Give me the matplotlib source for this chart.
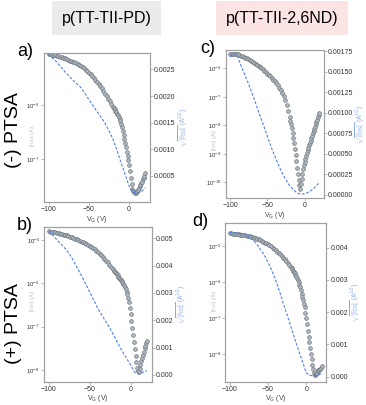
import matplotlib
matplotlib.use("Agg")
import matplotlib.pyplot as plt
import matplotlib.ticker as mticker
import numpy as np

plt.rcParams["font.family"] = ["Liberation Sans", "DejaVu Sans"]
plt.rcParams["mathtext.fontset"] = "custom"
plt.rcParams["mathtext.rm"] = "Liberation Sans"
plt.rcParams["mathtext.it"] = "Liberation Sans"

# gate voltage sweep: 2 V steps to -22 V, then 1 V steps
vg = np.r_[np.arange(-100, -21, 2), np.arange(-20, 21, 1)]
vg_line = np.arange(-100, 21, 5)

# log10 |I_DS| (A)
a_log_ids = [-5.06, -5.065, -5.07, -5.08, -5.085, -5.09, -5.10, -5.11, -5.12, -5.13,
             -5.14, -5.155, -5.17, -5.18, -5.19, -5.20, -5.21, -5.225, -5.24, -5.255,
             -5.27, -5.29, -5.32, -5.345, -5.37, -5.40, -5.43, -5.465, -5.50, -5.535,
             -5.57, -5.61, -5.65, -5.69, -5.74, -5.79, -5.84, -5.885, -5.93, -5.98,
             -6.03, -6.055, -6.08, -6.105, -6.13, -6.16, -6.19, -6.22, -6.26, -6.30,
             -6.35, -6.41, -6.48, -6.55, -6.62, -6.70, -6.78, -6.86, -6.94, -7.02,
             -7.10, -7.22, -7.35, -7.46, -7.54, -7.59, -7.61, -7.62, -7.62, -7.61,
             -7.59, -7.56, -7.53, -7.50, -7.47, -7.44, -7.41, -7.37, -7.34, -7.30, -7.26]
c_log_ids = [-5.50, -5.50, -5.49, -5.48, -5.48, -5.50, -5.52, -5.55, -5.57, -5.60,
             -5.62, -5.65, -5.68, -5.71, -5.74, -5.77, -5.81, -5.84, -5.87, -5.91,
             -5.95, -5.99, -6.03, -6.08, -6.13, -6.18, -6.23, -6.28, -6.33, -6.39,
             -6.45, -6.52, -6.59, -6.67, -6.76, -6.86, -6.97, -7.10, -7.28, -7.50,
             -7.72, -7.84, -7.96, -8.10, -8.26, -8.44, -8.63, -8.83, -9.03, -9.25,
             -9.50, -9.72, -9.92, -10.10, -10.22, -10.05, -9.88, -9.70, -9.52, -9.40,
             -9.30, -9.19, -9.08, -8.97, -8.87, -8.78, -8.70, -8.61, -8.53, -8.44,
             -8.36, -8.28, -8.20, -8.12, -8.04, -7.96, -7.88, -7.80, -7.72, -7.65, -7.58]
b_log_ids = [-4.80, -4.81, -4.81, -4.82, -4.83, -4.84, -4.85, -4.86, -4.87, -4.88,
             -4.89, -4.90, -4.915, -4.93, -4.945, -4.96, -4.975, -4.99, -5.005, -5.02,
             -5.04, -5.06, -5.08, -5.10, -5.12, -5.145, -5.17, -5.195, -5.22, -5.25,
             -5.285, -5.32, -5.36, -5.40, -5.44, -5.48, -5.52, -5.57, -5.62, -5.67,
             -5.72, -5.745, -5.77, -5.795, -5.82, -5.845, -5.87, -5.895, -5.92, -5.95,
             -5.98, -6.01, -6.05, -6.09, -6.14, -6.19, -6.25, -6.33, -6.43, -6.56,
             -6.70, -6.86, -7.02, -7.19, -7.35, -7.52, -7.68, -7.82, -7.94, -8.02,
             -8.05, -7.98, -7.88, -7.79, -7.71, -7.64, -7.57, -7.50, -7.44, -7.38, -7.32]
d_log_ids = [-4.64, -4.645, -4.65, -4.655, -4.66, -4.665, -4.67, -4.68, -4.685, -4.69,
             -4.70, -4.71, -4.72, -4.73, -4.74, -4.75, -4.765, -4.78, -4.795, -4.81,
             -4.83, -4.85, -4.875, -4.90, -4.925, -4.95, -4.98, -5.01, -5.04, -5.07,
             -5.11, -5.15, -5.19, -5.23, -5.27, -5.32, -5.37, -5.42, -5.47, -5.53,
             -5.59, -5.62, -5.65, -5.68, -5.72, -5.76, -5.80, -5.84, -5.89, -5.94,
             -6.00, -6.07, -6.15, -6.23, -6.32, -6.41, -6.50, -6.60, -6.70, -6.85,
             -7.00, -7.17, -7.35, -7.52, -7.68, -7.85, -8.00, -8.15, -8.30, -8.43,
             -8.53, -8.59, -8.58, -8.55, -8.52, -8.49, -8.46, -8.44, -8.41, -8.38, -8.35]

# sqrt(|I_DS|) (A^1/2), every 5 V
a_sqrt = [0.00279, 0.00271, 0.00264, 0.00255, 0.00246, 0.00238, 0.00230, 0.00223, 0.00216,
          0.00205, 0.00193, 0.00182, 0.00171, 0.00160, 0.00149, 0.00134, 0.00118, 0.00097,
          0.00074, 0.00052, 0.00030, 0.00019, 0.00016, 0.00019, 0.00027]
c_sqrt = [0.00168, 0.00172, 0.00168, 0.00156, 0.00145, 0.00134, 0.00122, 0.00109, 0.00096,
          0.00084, 0.00071, 0.00058, 0.00047, 0.00036, 0.00026, 0.00018, 0.00011, 0.00006,
          0.00002, 0.00001, 0.00001, 0.00003, 0.00006, 0.00010, 0.00015]
b_sqrt = [0.00526, 0.00510, 0.00494, 0.00478, 0.00462, 0.00443, 0.00418, 0.00390, 0.00362,
          0.00333, 0.00302, 0.00273, 0.00242, 0.00218, 0.00193, 0.00170, 0.00141, 0.00113,
          0.00086, 0.00061, 0.00036, 0.00010, 0.00003, 0.00010, 0.00016]
d_sqrt = [0.00447, 0.00446, 0.00445, 0.00443, 0.00440, 0.00434, 0.00425, 0.00412, 0.00395,
          0.00378, 0.00355, 0.00330, 0.00300, 0.00266, 0.00228, 0.00192, 0.00155, 0.00118,
          0.00082, 0.00048, 0.00012, 0.00004, 0.00003, 0.00005, 0.00009]

panels = [
    ("a)", a_log_ids, a_sqrt, [0.120, 0.501, 0.290, 0.368], (10**-7.79, 10**-5.04),
     (0.0, 0.00281), [0.0005, 0.001, 0.0015, 0.002, 0.0025], "%.4f", 0.44, 0.03),
    ("c)", c_log_ids, c_sqrt, [0.617, 0.511, 0.268, 0.365], (10**-10.55, 10**-5.36),
     (-0.00004, 0.00176), np.arange(0, 0.00176, 0.00025), "%.5f", 0.392, 0.03),
    ("b)", b_log_ids, b_sqrt, [0.120, 0.058, 0.295, 0.381], (10**-8.26, 10**-4.71),
     (-0.00024, 0.0054), [0, 0.001, 0.002, 0.003, 0.004, 0.005], "%.3f", 0.52, 0.03),
    ("d)", d_log_ids, d_sqrt, [0.615, 0.058, 0.276, 0.391], (10**-8.77, 10**-4.36),
     (-0.00015, 0.00476), [0, 0.001, 0.002, 0.003, 0.004], "%.3f", 0.51, 0.045),
]

spine_col = "#a0a0a0"
fig = plt.figure(figsize=(3.66, 4.05), dpi=100)

for letter, log_ids, sq, rect, ylim, y2lim, y2ticks, fmt, lab_y, let_dx in panels:
    ax = fig.add_axes(rect)
    ax.plot(vg, 10**np.array(log_ids), "o", ms=2.7, mfc="#b2b9bf", mec="#6e7983", mew=0.5)
    ax.set_yscale("log")
    ax.set_ylim(*ylim)
    ax.set_xlim(-106, 26)
    ax.yaxis.set_major_locator(mticker.LogLocator(base=10, numticks=20))
    ax.yaxis.set_minor_locator(mticker.NullLocator())
    ax.set_xticks([-100, -50, 0])
    ax.tick_params(labelsize=5, length=2, width=0.5, color=spine_col, pad=1, labelcolor="#333333")
    ax.tick_params(axis="y", labelsize=4.3)
    ax.set_xlabel("V$_G$ (V)", fontsize=5, color="#444444", labelpad=0.5)
    ax.set_ylabel("|I$_{DS}$| (A)", fontsize=4.2, color="#b8bcc0")
    ax.yaxis.set_label_coords(-0.065, lab_y)
    for s in ax.spines.values():
        s.set_color(spine_col)
        s.set_linewidth(0.8)

    ax2 = ax.twinx()
    ax2.plot(vg_line, sq, "--", color="#4f80e2", lw=0.8, dashes=(2.5, 1.5))
    ax2.set_ylim(*y2lim)
    ax2.set_yticks(y2ticks)
    ax2.yaxis.set_major_formatter(mticker.FormatStrFormatter(fmt))
    ax2.tick_params(labelsize=5, length=2, width=0.5, color=spine_col, pad=1, labelcolor="#333333")
    ax2.set_ylabel(r"$\sqrt{|I_{DS}|}$ (A$^{1/2}$)", fontsize=4.8, color="#8eaaea", labelpad=0.3)
    for s in ax2.spines.values():
        s.set_color(spine_col)
        s.set_linewidth(0.8)

    fig.text(rect[0] - let_dx, rect[1] + rect[3] + 0.005, letter, fontsize=13,
             ha="right", va="center")

fig.text(0.291, 0.955, "p(TT-TII-PD)", fontsize=11.5, ha="center", va="center",
         bbox=dict(boxstyle="square,pad=0.6", fc="#ebebeb", ec="none"))
fig.text(0.771, 0.955, "p(TT-TII-2,6ND)", fontsize=11.5, ha="center", va="center",
         bbox=dict(boxstyle="square,pad=0.6", fc="#fce4e4", ec="none"))
fig.text(0.036, 0.68, "(-) PTSA", fontsize=14, rotation=90, ha="center", va="center")
fig.text(0.036, 0.20, "(+) PTSA", fontsize=14, rotation=90, ha="center", va="center")

fig.savefig("out.png", dpi=100)
